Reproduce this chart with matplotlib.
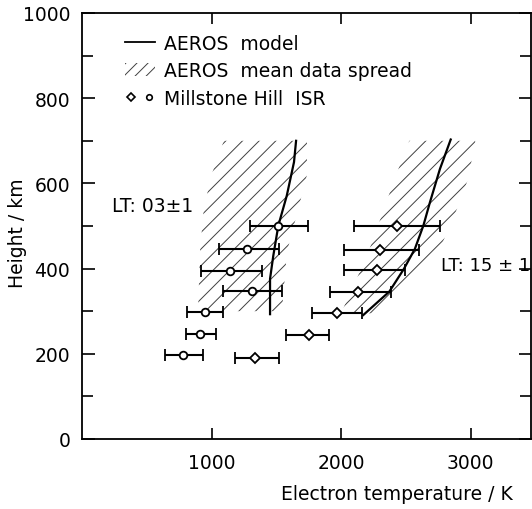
import numpy as np
import matplotlib
matplotlib.use('Agg')
import matplotlib.pyplot as plt
from matplotlib.lines import Line2D
from matplotlib.patches import Patch
from matplotlib.legend_handler import HandlerTuple

# ---- data ----
# Millstone Hill ISR, LT 03 (circles)
lt03_height = [500, 445, 395, 348, 297, 247, 197]
lt03_temp = [1515, 1277, 1145, 1315, 950, 914, 778]
lt03_low = [1300, 1060, 920, 1086, 813, 803, 643]
lt03_high = [1746, 1524, 1388, 1547, 1089, 1032, 937]

# Millstone Hill ISR, LT 15 (diamonds)
lt15_height = [501, 444, 396, 346, 295, 243, 190]
lt15_temp = [2432, 2304, 2278, 2131, 1969, 1750, 1338]
lt15_low = [2100, 2026, 2026, 1913, 1774, 1575, 1181]
lt15_high = [2767, 2602, 2494, 2384, 2160, 1907, 1521]

# AEROS model curves
model03_height = [293, 376, 430, 501, 571, 650, 700]
model03_temp = [1452, 1452, 1477, 1516, 1581, 1637, 1653]
model15_height = [291, 346, 399, 446, 501, 556, 634, 703]
model15_temp = [2172, 2373, 2485, 2570, 2636, 2687, 2764, 2847]

# AEROS mean data spread (hatched bands)
band03_height = [300, 440, 540, 620, 700]
band03_left = [896, 911, 940, 1000, 1095]
band03_right = [1544, 1583, 1670, 1737, 1737]
band15_height = [295, 380, 450, 530, 610, 700]
band15_left = [2000, 2127, 2225, 2320, 2413, 2527]
band15_right = [2330, 2615, 2768, 2882, 2981, 3037]

plt.rcParams['font.family'] = 'DejaVu Sans'
plt.rcParams['font.size'] = 13.5
plt.rcParams['hatch.linewidth'] = 0.7

fig = plt.figure(figsize=(5.32, 5.10), dpi=100)
ax = fig.add_axes([82 / 532, 70 / 510, 449 / 532, 426 / 510])

# hatched spread regions
for h, lo, hi in [(band03_height, band03_left, band03_right),
                  (band15_height, band15_left, band15_right)]:
    ax.fill_betweenx(h, lo, hi, facecolor='none', edgecolor='0.25',
                     hatch='//', linewidth=0)

# model curves
ax.plot(model03_temp, model03_height, color='k', lw=1.6)
ax.plot(model15_temp, model15_height, color='k', lw=1.6)

# ISR data with error bars
t = np.array(lt03_temp)
ax.errorbar(t, lt03_height, xerr=[t - np.array(lt03_low), np.array(lt03_high) - t],
            fmt='o', ms=5.5, mfc='white', mec='k', mew=1.3, ecolor='k',
            elinewidth=1.5, capsize=4, capthick=1.5, zorder=3)
t = np.array(lt15_temp)
ax.errorbar(t, lt15_height, xerr=[t - np.array(lt15_low), np.array(lt15_high) - t],
            fmt='D', ms=5.5, mfc='white', mec='k', mew=1.3, ecolor='k',
            elinewidth=1.5, capsize=4, capthick=1.5, zorder=3)

ax.text(232, 549, 'LT: 03±1', va='center')
ax.text(2775, 408, 'LT: 15 ± 1', va='center', fontsize=13)

# axes styling
ax.set_xlim(0, 3467)
ax.set_ylim(0, 1000)
ax.set_xticks([1000, 2000, 3000])
ax.set_yticks(np.arange(0, 1001, 200))
ax.set_yticks(np.arange(100, 1000, 200), minor=True)
ax.tick_params(which='both', direction='in', top=True, right=True, width=1.2)
ax.tick_params(axis='y', which='major', length=9, pad=8.5)
ax.tick_params(axis='y', which='minor', length=8)
ax.tick_params(axis='x', which='major', length=8, pad=10)
for s in ax.spines.values():
    s.set_linewidth(1.3)

ax.set_xlabel('Electron temperature / K', ha='right', va='center')
ax.xaxis.set_label_coords((513 - 82) / 449, -(495 - 440) / 426)
ax.set_ylabel('Height / km', ha='center', va='center')
ax.yaxis.set_label_coords((17.5 - 82) / 449, (440 - 233) / 426)

# legend
h_line = Line2D([], [], color='k', lw=1.3)
h_hatch = Patch(facecolor='none', edgecolor='0.25', hatch='///', lw=0)
h_dia = Line2D([], [], ls='none', marker='D', ms=4.5, mfc='white', mec='k', mew=1.2)
h_circ = Line2D([], [], ls='none', marker='o', ms=4, mfc='white', mec='k', mew=1.2)
ax.legend([h_line, h_hatch, (h_dia, h_circ)],
          ['AEROS  model', 'AEROS  mean data spread', 'Millstone Hill  ISR'],
          handler_map={tuple: HandlerTuple(ndivide=None, pad=0.3)},
          loc='upper left', bbox_to_anchor=((125 - 82) / 449, (440 - 35) / 426),
          frameon=False, borderpad=0, borderaxespad=0, labelspacing=0.45,
          handlelength=1.6, handletextpad=0.5)

fig.savefig('out.png', dpi=100)
